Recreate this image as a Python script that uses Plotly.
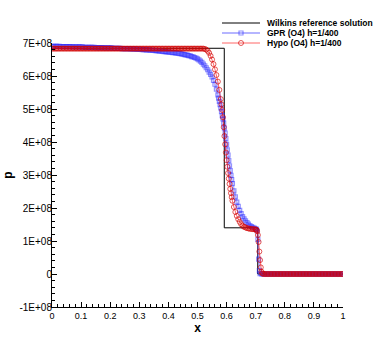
import plotly.graph_objects as go
import numpy as np

# Wilkins reference solution (p in units of 1e8)
wilkins_x = [0.0, 0.592, 0.592, 0.707, 0.707, 1.0]
wilkins_p = [6.84, 6.84, 1.40, 1.40, 0.0, 0.0]

# GPR (O4) h=1/400
gpr_x = [
    0.000, 0.005, 0.010, 0.015, 0.020, 0.025, 0.030, 0.035, 0.040, 0.045,
    0.050, 0.055, 0.060, 0.065, 0.070, 0.075, 0.080, 0.085, 0.090, 0.095,
    0.100, 0.105, 0.110, 0.115, 0.120, 0.125, 0.130, 0.135, 0.140, 0.145,
    0.150, 0.155, 0.160, 0.165, 0.170, 0.175, 0.180, 0.185, 0.190, 0.195,
    0.200, 0.205, 0.210, 0.215, 0.220, 0.225, 0.230, 0.235, 0.240, 0.245,
    0.250, 0.255, 0.260, 0.265, 0.270, 0.275, 0.280, 0.285, 0.290, 0.295,
    0.300, 0.305, 0.310, 0.315, 0.320, 0.325, 0.330, 0.335, 0.340, 0.345,
    0.350, 0.355, 0.360, 0.365, 0.370, 0.375, 0.380, 0.385, 0.390, 0.395,
    0.400, 0.405, 0.410, 0.415, 0.420, 0.425, 0.430, 0.435, 0.440, 0.445,
    0.450, 0.455, 0.460, 0.465, 0.470, 0.475, 0.480, 0.485, 0.490, 0.495,
    0.500, 0.505, 0.510, 0.515, 0.520, 0.525, 0.530, 0.535, 0.540, 0.545,
    0.550, 0.555, 0.560, 0.565, 0.570, 0.5725, 0.575, 0.5775, 0.580, 0.5825,
    0.585, 0.5875, 0.590, 0.5925, 0.595, 0.5975, 0.600, 0.6025, 0.605, 0.6075,
    0.610, 0.6125, 0.615, 0.6175, 0.620, 0.625, 0.630, 0.635, 0.640, 0.645,
    0.650, 0.655, 0.660, 0.665, 0.670, 0.675, 0.680, 0.685, 0.690, 0.695,
    0.700, 0.7025, 0.705, 0.7075, 0.710, 0.7125, 0.715, 0.720, 0.725, 0.730,
    0.735, 0.740, 0.745, 0.750, 0.755, 0.760, 0.765, 0.770, 0.775, 0.780,
    0.785, 0.790, 0.795, 0.800, 0.805, 0.810, 0.815, 0.820, 0.825, 0.830,
    0.835, 0.840, 0.845, 0.850, 0.855, 0.860, 0.865, 0.870, 0.875, 0.880,
    0.885, 0.890, 0.895, 0.900, 0.905, 0.910, 0.915, 0.920, 0.925, 0.930,
    0.935, 0.940, 0.945, 0.950, 0.955, 0.960, 0.965, 0.970, 0.975, 0.980,
    0.985, 0.990, 0.995, 1.000,
]
gpr_p = [
    6.90, 6.90, 6.90, 6.90, 6.90, 6.90, 6.89, 6.89, 6.89, 6.89,
    6.89, 6.89, 6.89, 6.89, 6.88, 6.88, 6.88, 6.88, 6.88, 6.88,
    6.88, 6.88, 6.87, 6.87, 6.87, 6.87, 6.87, 6.87, 6.87, 6.87,
    6.86, 6.86, 6.86, 6.86, 6.86, 6.86, 6.85, 6.85, 6.85, 6.85,
    6.85, 6.85, 6.84, 6.84, 6.84, 6.84, 6.84, 6.84, 6.83, 6.83,
    6.83, 6.83, 6.83, 6.83, 6.82, 6.82, 6.82, 6.82, 6.81, 6.81,
    6.81, 6.81, 6.80, 6.80, 6.80, 6.79, 6.79, 6.79, 6.78, 6.78,
    6.78, 6.77, 6.77, 6.76, 6.76, 6.75, 6.75, 6.74, 6.74, 6.73,
    6.73, 6.72, 6.72, 6.71, 6.71, 6.70, 6.69, 6.69, 6.68, 6.67,
    6.66, 6.65, 6.64, 6.63, 6.62, 6.61, 6.59, 6.58, 6.56, 6.54,
    6.52, 6.49, 6.45, 6.41, 6.36, 6.31, 6.25, 6.19, 6.12, 6.05,
    5.97, 5.87, 5.75, 5.60, 5.43, 5.33, 5.23, 5.13, 5.03, 4.92,
    4.80, 4.70, 4.57, 4.42, 4.27, 4.10, 3.93, 3.76, 3.60, 3.44,
    3.28, 3.13, 2.99, 2.86, 2.74, 2.52, 2.34, 2.18, 2.05, 1.93,
    1.83, 1.74, 1.67, 1.61, 1.56, 1.51, 1.47, 1.44, 1.41, 1.39,
    1.37, 1.35, 1.31, 1.05, 0.45, 0.10, 0.01, 0.00, 0.00, 0.00,
    0.00, 0.00, 0.00, 0.00, 0.00, 0.00, 0.00, 0.00, 0.00, 0.00,
    0.00, 0.00, 0.00, 0.00, 0.00, 0.00, 0.00, 0.00, 0.00, 0.00,
    0.00, 0.00, 0.00, 0.00, 0.00, 0.00, 0.00, 0.00, 0.00, 0.00,
    0.00, 0.00, 0.00, 0.00, 0.00, 0.00, 0.00, 0.00, 0.00, 0.00,
    0.00, 0.00, 0.00, 0.00, 0.00, 0.00, 0.00, 0.00, 0.00, 0.00,
    0.00, 0.00, 0.00, 0.00,
]

# Hypo (O4) h=1/400
hypo_x = [
    0.000, 0.005, 0.010, 0.015, 0.020, 0.025, 0.030, 0.035, 0.040, 0.045,
    0.050, 0.055, 0.060, 0.065, 0.070, 0.075, 0.080, 0.085, 0.090, 0.095,
    0.100, 0.105, 0.110, 0.115, 0.120, 0.125, 0.130, 0.135, 0.140, 0.145,
    0.150, 0.155, 0.160, 0.165, 0.170, 0.175, 0.180, 0.185, 0.190, 0.195,
    0.200, 0.205, 0.210, 0.215, 0.220, 0.225, 0.230, 0.235, 0.240, 0.245,
    0.250, 0.255, 0.260, 0.265, 0.270, 0.275, 0.280, 0.285, 0.290, 0.295,
    0.300, 0.305, 0.310, 0.315, 0.320, 0.325, 0.330, 0.335, 0.340, 0.345,
    0.350, 0.355, 0.360, 0.365, 0.370, 0.375, 0.380, 0.385, 0.390, 0.395,
    0.400, 0.405, 0.410, 0.415, 0.420, 0.425, 0.430, 0.435, 0.440, 0.445,
    0.450, 0.455, 0.460, 0.465, 0.470, 0.475, 0.480, 0.485, 0.490, 0.495,
    0.500, 0.505, 0.510, 0.515, 0.520, 0.525, 0.530, 0.535, 0.540, 0.545,
    0.550, 0.555, 0.560, 0.565, 0.570, 0.575, 0.580, 0.5825, 0.585, 0.5875,
    0.590, 0.5925, 0.595, 0.5975, 0.600, 0.6025, 0.605, 0.6075, 0.610, 0.6125,
    0.615, 0.6175, 0.620, 0.625, 0.630, 0.635, 0.640, 0.645, 0.650, 0.655,
    0.660, 0.665, 0.670, 0.675, 0.680, 0.685, 0.690, 0.695, 0.700, 0.7025,
    0.705, 0.7075, 0.710, 0.7125, 0.715, 0.7175, 0.720, 0.7225, 0.725, 0.730,
    0.735, 0.740, 0.745, 0.750, 0.755, 0.760, 0.765, 0.770, 0.775, 0.780,
    0.785, 0.790, 0.795, 0.800, 0.805, 0.810, 0.815, 0.820, 0.825, 0.830,
    0.835, 0.840, 0.845, 0.850, 0.855, 0.860, 0.865, 0.870, 0.875, 0.880,
    0.885, 0.890, 0.895, 0.900, 0.905, 0.910, 0.915, 0.920, 0.925, 0.930,
    0.935, 0.940, 0.945, 0.950, 0.955, 0.960, 0.965, 0.970, 0.975, 0.980,
    0.985, 0.990, 0.995, 1.000,
]
hypo_p = [
    6.83, 6.83, 6.83, 6.83, 6.83, 6.83, 6.83, 6.83, 6.83, 6.83,
    6.83, 6.83, 6.83, 6.83, 6.83, 6.83, 6.83, 6.83, 6.83, 6.83,
    6.83, 6.83, 6.83, 6.83, 6.83, 6.83, 6.83, 6.83, 6.83, 6.83,
    6.83, 6.83, 6.83, 6.83, 6.83, 6.83, 6.83, 6.83, 6.83, 6.83,
    6.83, 6.83, 6.83, 6.83, 6.83, 6.83, 6.83, 6.83, 6.83, 6.83,
    6.83, 6.83, 6.83, 6.83, 6.83, 6.83, 6.83, 6.83, 6.83, 6.83,
    6.83, 6.83, 6.83, 6.83, 6.83, 6.83, 6.83, 6.83, 6.83, 6.83,
    6.83, 6.83, 6.83, 6.83, 6.83, 6.83, 6.83, 6.83, 6.83, 6.83,
    6.83, 6.83, 6.83, 6.83, 6.83, 6.83, 6.83, 6.83, 6.83, 6.83,
    6.83, 6.83, 6.83, 6.83, 6.83, 6.83, 6.83, 6.83, 6.83, 6.83,
    6.83, 6.83, 6.83, 6.83, 6.83, 6.82, 6.80, 6.76, 6.70, 6.61,
    6.50, 6.36, 6.20, 6.03, 5.83, 5.58, 5.30, 5.14, 4.97, 4.75,
    4.45, 4.18, 3.93, 3.68, 3.45, 3.25, 3.06, 2.89, 2.73, 2.58,
    2.45, 2.33, 2.22, 2.03, 1.88, 1.76, 1.66, 1.58, 1.51, 1.46,
    1.43, 1.41, 1.39, 1.38, 1.37, 1.365, 1.36, 1.355, 1.35, 1.34,
    1.30, 1.18, 0.97, 0.68, 0.42, 0.20, 0.07, 0.02, 0.005, 0.00,
    0.00, 0.00, 0.00, 0.00, 0.00, 0.00, 0.00, 0.00, 0.00, 0.00,
    0.00, 0.00, 0.00, 0.00, 0.00, 0.00, 0.00, 0.00, 0.00, 0.00,
    0.00, 0.00, 0.00, 0.00, 0.00, 0.00, 0.00, 0.00, 0.00, 0.00,
    0.00, 0.00, 0.00, 0.00, 0.00, 0.00, 0.00, 0.00, 0.00, 0.00,
    0.00, 0.00, 0.00, 0.00, 0.00, 0.00, 0.00, 0.00, 0.00, 0.00,
    0.00, 0.00, 0.00, 0.00,
]

ytick_vals = [-1, 0, 1, 2, 3, 4, 5, 6, 7]
ytick_text = ["-1E+08", "0", "1E+08", "2E+08", "3E+08", "4E+08", "5E+08", "6E+08", "7E+08"]

SCALE = 1e8
FONT = "Liberation Sans, Arial, sans-serif"
BLUE_LINE = "rgba(90,90,255,0.45)"
BLUE_MK = "rgba(40,40,255,0.5)"
RED_LINE = "rgba(255,0,0,0.6)"
RED_MK = "rgba(210,0,0,0.65)"

fig = go.Figure()

fig.add_trace(go.Scatter(
    x=wilkins_x, y=np.array(wilkins_p) * SCALE, mode="lines",
    line=dict(color="black", width=1), name="Wilkins reference solution",
))
fig.add_trace(go.Scatter(
    x=gpr_x, y=np.array(gpr_p) * SCALE, mode="lines+markers",
    line=dict(color=BLUE_LINE, width=2),
    marker=dict(symbol="square-open", size=4, color=BLUE_MK, line=dict(width=1.2)),
    name="GPR (O4) h=1/400",
))
fig.add_trace(go.Scatter(
    x=hypo_x, y=np.array(hypo_p) * SCALE, mode="lines+markers",
    line=dict(color=RED_LINE, width=1),
    marker=dict(symbol="circle-open", size=5, color=RED_MK, line=dict(width=1)),
    name="Hypo (O4) h=1/400",
))

# hand-drawn legend (Tecplot style, tight rows)
def px_x(p):
    return (p - 52) / 291


def px_y(p):
    return (307 - p) / 264


shapes = []
annotations = []
rows = [
    (23, "black", 1, None, "Wilkins reference solution"),
    (33, BLUE_LINE, 2, "square", "GPR (O4) h=1/400"),
    (43, RED_LINE, 1, "circle", "Hypo (O4) h=1/400"),
]
for yy, col, w, mk, label in rows:
    shapes.append(dict(type="line", xref="paper", yref="paper",
                       x0=px_x(222), x1=px_x(260), y0=px_y(yy), y1=px_y(yy),
                       line=dict(color=col, width=w)))
    if mk == "square":
        shapes.append(dict(type="rect", xref="paper", yref="paper",
                           xsizemode="pixel", ysizemode="pixel",
                           xanchor=px_x(241), yanchor=px_y(yy),
                           x0=-2, x1=2, y0=-2, y1=2,
                           line=dict(color=BLUE_MK, width=1.2)))
    elif mk == "circle":
        shapes.append(dict(type="circle", xref="paper", yref="paper",
                           xsizemode="pixel", ysizemode="pixel",
                           xanchor=px_x(241), yanchor=px_y(yy),
                           x0=-2.5, x1=2.5, y0=-2.5, y1=2.5,
                           line=dict(color=RED_MK, width=1)))
    annotations.append(dict(xref="paper", yref="paper", x=px_x(265), y=px_y(yy),
                            xanchor="left", yanchor="middle", showarrow=False,
                            text="<b>%s</b>" % label,
                            font=dict(family=FONT, size=8.5, color="black")))

fig.update_layout(
    width=390, height=347,
    margin=dict(l=52, r=47, t=43, b=40),
    paper_bgcolor="white", plot_bgcolor="white",
    showlegend=False,
    font=dict(family=FONT, color="black"),
    shapes=shapes, annotations=annotations,
    xaxis=dict(
        range=[0, 1], automargin=False, showline=True, linecolor="black", linewidth=1,
        showgrid=False, zeroline=False, ticks="inside", ticklen=5, tickwidth=1,
        tickcolor="black", dtick=0.1, tick0=0, tickformat="~g",
        tickfont=dict(size=9), ticklabelstandoff=0,
        minor=dict(ticks="inside", ticklen=3, dtick=0.02, tick0=0, tickcolor="black"),
        title=dict(text="<b>x</b>", font=dict(size=12), standoff=0),
    ),
    yaxis=dict(
        range=[-1 * SCALE, 7 * SCALE], automargin=False, showline=True, linecolor="black",
        linewidth=1, showgrid=False, zeroline=False, ticks="inside", ticklen=5, tickwidth=1,
        tickcolor="black", tickvals=[v * SCALE for v in ytick_vals], ticktext=ytick_text,
        tickfont=dict(size=10), ticklabelstandoff=-3,
        minor=dict(ticks="inside", ticklen=3, dtick=0.2 * SCALE, tick0=0, tickcolor="black"),
        title=dict(text="<b>p</b>", font=dict(size=12), standoff=4),
    ),
)

# the page body has a default 8px margin; remove it so the figure fills the window
fig.write_html("out.html", config={"displayModeBar": False},
               post_script="document.body.style.margin='0';")
